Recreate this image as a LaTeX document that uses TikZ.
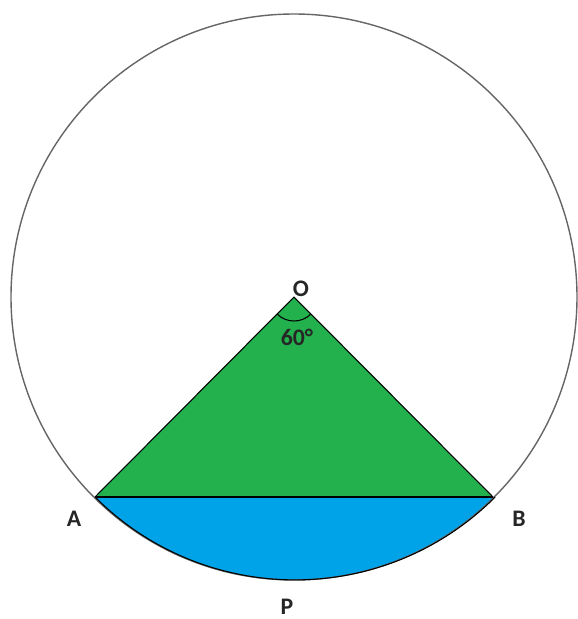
\documentclass[tikz,border=0pt]{standalone}
\usepackage{fontspec}
\setmainfont{Carlito}
\usepackage{xcolor}
\usetikzlibrary{calc}

\definecolor{sectorgreen}{RGB}{34,177,76}
\definecolor{segblue}{RGB}{0,162,232}

\begin{document}
\begin{tikzpicture}[
  x=0.02cm,y=-0.02cm,
  rim/.style={draw=black!60,line width=0.8pt},
  edge/.style={draw=black,line width=0.6pt},
  lbl/.style={font=\bfseries\fontsize{13.5}{15}\selectfont,text=black!85,inner sep=0pt},
]
\useasboundingbox (0,0) rectangle (578,619);
\coordinate (O) at (294,297);
\coordinate (A) at (95,497);
\coordinate (B) at (493,497);
% segment APB and triangle OAB
\fill[segblue] (A) arc[start angle=135,end angle=45,radius=283] -- cycle;
\fill[sectorgreen] (O) -- (A) -- (B) -- cycle;
\draw[rim] (O) circle[radius=283];
\draw[edge] (A) arc[start angle=135,end angle=45,radius=283];
\draw[edge] (A) -- (O) -- (B);
\draw[edge,line width=1pt] (A) -- (B);
% angle mark
\draw[edge] ($(O)+(135:24)$) arc[start angle=135,end angle=45,radius=24];
\node[lbl] (lO) at (301,289) {O};
\node[lbl] (ang) at (297,337) {60°};
\node[lbl] (lA) at (74,519) {A};
\node[lbl] (lB) at (519,519) {B};
\node[lbl] (lP) at (287,607) {P};
\end{tikzpicture}
\end{document}
